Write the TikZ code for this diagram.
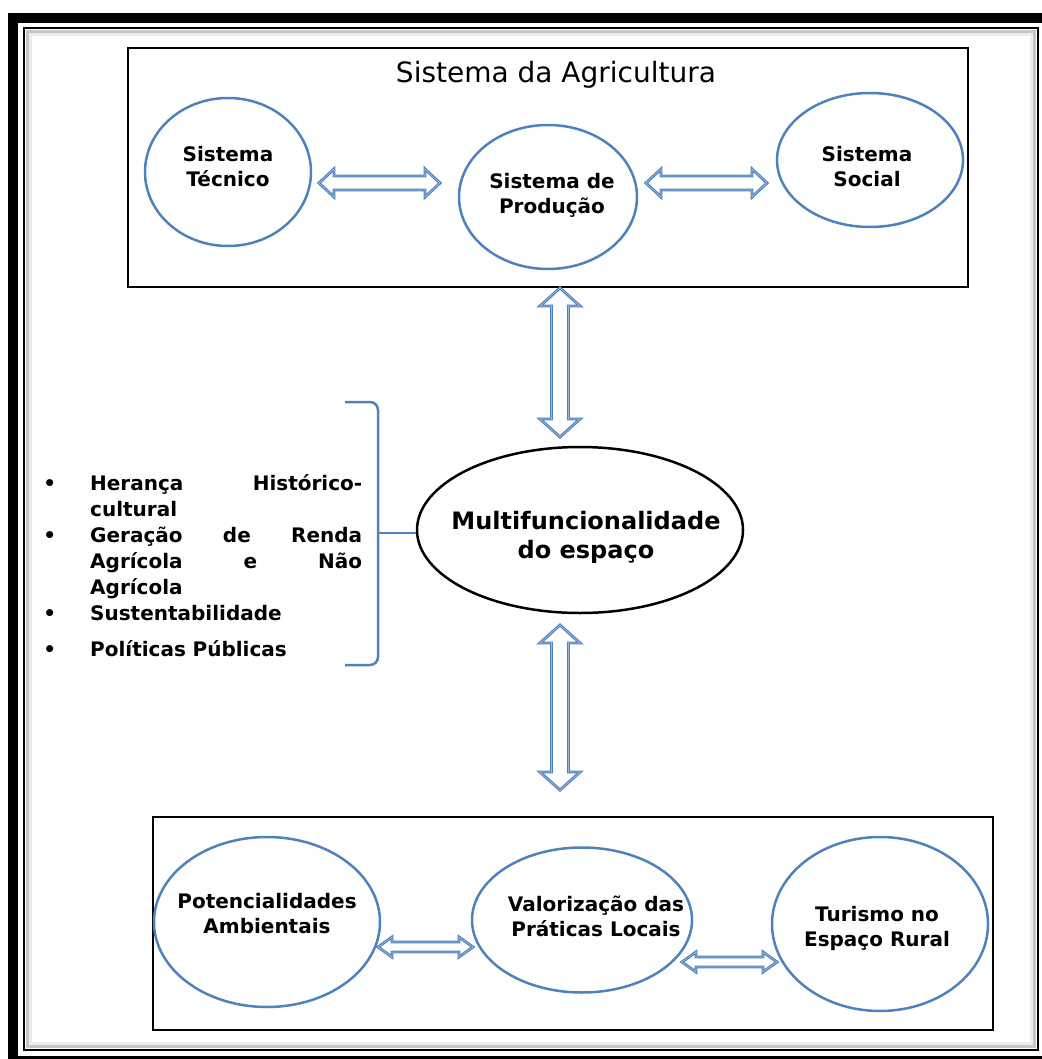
\documentclass[tikz,border=0pt]{standalone}
\usepackage{fontspec}
\setmainfont{DejaVu Sans}
\usetikzlibrary{shapes.geometric,calc}
\definecolor{cblue}{RGB}{79,129,189}
\setlength{\parindent}{0pt}
\newcommand\bul{\leavevmode\llap{\textbullet\hspace{34pt}}}

\begin{document}
\begin{tikzpicture}[x=1pt,y=-1pt,
    bcirc/.style={ellipse,draw=cblue,line width=2.5pt,inner sep=0pt},
    ctext/.style={align=center,font=\bfseries\fontsize{20}{25}\selectfont},
    bbox/.style={draw,line width=2.5pt,inner sep=0pt},
    brk/.style={draw=cblue,line width=2.5pt},
    listtxt/.style={text width=272pt,align=left,inner sep=0pt,
      font=\bfseries\fontsize{20}{26}\selectfont},
    hollow/.style n args={3}{draw=cblue,double=cblue!55,double distance=0.7pt,
      line width=1.1pt,fill=white,line join=miter,
      to path={-- ($(\tikztostart)!#1!(\tikztotarget)!#2!90:(\tikztotarget)$)
        -- ($(\tikztostart)!#1!(\tikztotarget)!#3!90:(\tikztotarget)$)
        -- ($(\tikztotarget)!#1!(\tikztostart)!#3!-90:(\tikztostart)$)
        -- ($(\tikztotarget)!#1!(\tikztostart)!#2!-90:(\tikztostart)$)
        -- (\tikztotarget)
        -- ($(\tikztotarget)!#1!(\tikztostart)!#2!90:(\tikztostart)$)
        -- ($(\tikztotarget)!#1!(\tikztostart)!#3!90:(\tikztostart)$)
        -- ($(\tikztostart)!#1!(\tikztotarget)!#3!-90:(\tikztotarget)$)
        -- ($(\tikztostart)!#1!(\tikztotarget)!#2!-90:(\tikztotarget)$)
        -- cycle}}]
  \useasboundingbox (0,0) rectangle (1041,1059);
  % frame
  \draw[line width=10pt] (13,18) rectangle (1047,1061);
  \draw[line width=2pt] (24,28) rectangle (1038,1050);
  \draw[line width=3pt,gray!45] (27.5,31.5) rectangle (1034.5,1046.5);
  \draw[line width=3pt,gray!15] (30.5,34.5) rectangle (1031.5,1043.5);

  % sistema da agricultura
  \node[bbox,minimum width=840,minimum height=239] (agri) at (548,167.5) {};
  \node[font=\fontsize{28}{33}\selectfont] (agrit) at (556,75) {Sistema da Agricultura};
  \node[bcirc,minimum width=166,minimum height=148] (tec) at (228,172) {};
  \node[ctext] (tect) at (228,167) {Sistema\\Técnico};
  \node[bcirc,minimum width=178,minimum height=144] (prod) at (548,197) {};
  \node[ctext] (prodt) at (552,195) {Sistema de\\Produção};
  \node[bcirc,minimum width=186,minimum height=134] (soc) at (870,160) {};
  \node[ctext] (soct) at (867,167) {Sistema\\Social};
  \coordinate (tec-e) at (319,183);
  \coordinate (prod-w) at (440,183);
  \coordinate (prod-e) at (646,183);
  \coordinate (soc-w) at (767,183);
  \draw[hollow={15pt}{14pt}{7pt}] (tec-e) to (prod-w);
  \draw[hollow={15pt}{14pt}{7pt}] (prod-e) to (soc-w);

  % centro
  \node[ellipse,draw,line width=2.5pt,inner sep=0pt,minimum width=326,minimum height=166] (multi) at (580,530) {};
  \node[font=\bfseries\fontsize{24}{29}\selectfont,align=center] (multit) at (586,537) {Multifuncionalidade\\do espaço};
  \coordinate (agri-s) at (560,288);
  \coordinate (multi-n) at (560,437);
  \coordinate (multi-s) at (560,625);
  \coordinate (rural-n) at (560,790);
  \draw[hollow={18pt}{20pt}{8.5pt}] (agri-s) to (multi-n);
  \draw[hollow={18pt}{20pt}{8.5pt}] (multi-s) to (rural-n);

  % lista
  \node[listtxt,anchor=north west] (lst) at (90,474) {%
    \bul\hbox to\hsize{Herança\hfill Histórico-}\par
    cultural\par
    \bul\hbox to\hsize{Geração\hfill de\hfill Renda}\par
    \hbox to\hsize{Agrícola\hfill e\hfill Não}\par
    Agrícola\par
    \bul Sustentabilidade\par
    \vspace{10pt}\bul Políticas Públicas};
  \draw[brk,rounded corners=8pt] (345,402) -- (378,402) -- (378,665) -- (345,665);
  \coordinate (brm) at (378,533);
  \draw[brk] (brm) -- (multi.west |- brm);

  % espaco rural
  \node[bbox,minimum width=840,minimum height=213] (rural) at (573,923.5) {};
  \node[bcirc,minimum width=226,minimum height=170] (pot) at (267,922) {};
  \node[ctext] (pott) at (267,914) {Potencialidades\\Ambientais};
  \node[bcirc,minimum width=220,minimum height=145] (val) at (582,920) {};
  \node[ctext] (valt) at (596,916) {Valorização das\\Práticas Locais};
  \node[bcirc,minimum width=216,minimum height=174] (tur) at (880,924) {};
  \node[ctext] (turt) at (877,928) {Turismo no\\Espaço Rural};
  \coordinate (pot-e) at (378,947);
  \coordinate (val-w) at (473,947);
  \coordinate (val-e) at (682,962);
  \coordinate (tur-w) at (777,962);
  \draw[hollow={14pt}{10pt}{5pt}] (pot-e) to (val-w);
  \draw[hollow={14pt}{10pt}{5pt}] (val-e) to (tur-w);
\end{tikzpicture}
\end{document}
